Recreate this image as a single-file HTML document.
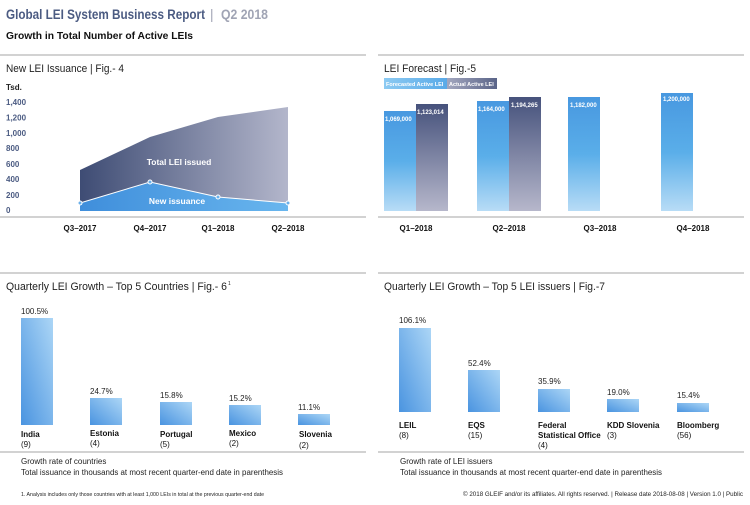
<!DOCTYPE html>
<html><head><meta charset="utf-8"><style>
html,body{margin:0;padding:0;background:#fff;}
svg{display:block;font-family:"Liberation Sans",sans-serif;}
</style></head><body>
<svg width="750" height="505" viewBox="0 0 750 505" xmlns="http://www.w3.org/2000/svg">
<defs>
<linearGradient id="gTot" x1="0" y1="0" x2="1" y2="0"><stop offset="0" stop-color="#3e4c74"/><stop offset="1" stop-color="#b3b6cb"/></linearGradient>
<linearGradient id="gNew" x1="0" y1="0" x2="1" y2="0"><stop offset="0" stop-color="#3f8edb"/><stop offset="1" stop-color="#69b6ee"/></linearGradient>
<linearGradient id="gF" x1="0" y1="0" x2="0" y2="1"><stop offset="0" stop-color="#4898e0"/><stop offset="0.5" stop-color="#5aaee9"/><stop offset="1" stop-color="#b8dcf6"/></linearGradient>
<linearGradient id="gA" x1="0" y1="0" x2="0" y2="1"><stop offset="0" stop-color="#46527c"/><stop offset="1" stop-color="#b6b7cb"/></linearGradient>
<linearGradient id="gB" x1="0" y1="1" x2="1" y2="0"><stop offset="0" stop-color="#4a94e0"/><stop offset="1" stop-color="#acd6f6"/></linearGradient>
<linearGradient id="gLF" x1="0" y1="0" x2="1" y2="0"><stop offset="0" stop-color="#8ccaf2"/><stop offset="1" stop-color="#5aaae8"/></linearGradient>
<linearGradient id="gLA" x1="0" y1="0" x2="1" y2="0"><stop offset="0" stop-color="#a3a7bf"/><stop offset="1" stop-color="#5a6488"/></linearGradient>
</defs>

<!-- Header -->
<text x="6" y="19" font-size="13.5" font-weight="bold" fill="#4b5b82" textLength="199" lengthAdjust="spacingAndGlyphs">Global LEI System Business Report</text>
<text x="210" y="19" font-size="13.5" fill="#a0a4b4">|</text>
<text x="221" y="19" font-size="13.5" font-weight="bold" fill="#a0a4b4" textLength="47" lengthAdjust="spacingAndGlyphs">Q2 2018</text>
<text x="6" y="39" font-size="10.5" font-weight="bold" fill="#111" textLength="187" lengthAdjust="spacingAndGlyphs">Growth in Total Number of Active LEIs</text>

<!-- Fig 4 -->
<line x1="0" y1="55" x2="366" y2="55" stroke="#888" stroke-width="0.8"/>
<text x="6" y="72" font-size="11" fill="#222" textLength="118" lengthAdjust="spacingAndGlyphs">New LEI Issuance  |  Fig.- 4</text>
<text x="6" y="90" font-size="8" font-weight="bold" fill="#222">Tsd.</text>
<g font-size="8" fill="#4b5b82" font-weight="bold">
<text x="6" y="105">1,400</text><text x="6" y="120.5">1,200</text><text x="6" y="136">1,000</text>
<text x="6" y="151">800</text><text x="6" y="167">600</text><text x="6" y="182">400</text>
<text x="6" y="198">200</text><text x="6" y="213">0</text>
</g>
<polygon points="80,170 150,137 218,117 288,107 288,211 80,211" fill="url(#gTot)"/>
<polygon points="80,203 150,182 218,197 288,203 288,211 80,211" fill="url(#gNew)"/>
<polyline points="80,203 150,182 218,197 288,203" fill="none" stroke="#fff" stroke-width="1"/>
<g fill="#6ab0ea" stroke="#fff" stroke-width="1"><circle cx="80" cy="203" r="2"/><circle cx="150" cy="182" r="2"/><circle cx="218" cy="197" r="2"/><circle cx="288" cy="203" r="2"/></g>
<text x="179" y="165" font-size="8.5" font-weight="bold" fill="#fff" text-anchor="middle">Total LEI issued</text>
<text x="177" y="204" font-size="8.5" font-weight="bold" fill="#fff" text-anchor="middle">New issuance</text>
<line x1="0" y1="217" x2="366" y2="217" stroke="#888" stroke-width="0.8"/>
<g font-size="8" font-weight="bold" fill="#111" text-anchor="middle">
<text x="80" y="231">Q3–2017</text><text x="150" y="231">Q4–2017</text><text x="218" y="231">Q1–2018</text><text x="288" y="231">Q2–2018</text>
</g>

<!-- Fig 5 -->
<line x1="378" y1="55" x2="744" y2="55" stroke="#888" stroke-width="0.8"/>
<text x="384" y="72" font-size="11" fill="#222" textLength="92" lengthAdjust="spacingAndGlyphs">LEI Forecast  |  Fig.-5</text>
<rect x="384" y="78" width="63" height="11" fill="url(#gLF)"/>
<rect x="447" y="78" width="50" height="11" fill="url(#gLA)"/>
<text x="386" y="86" font-size="5.5" font-weight="bold" fill="#fff">Forecasted Active LEI</text>
<text x="449" y="86" font-size="5.5" font-weight="bold" fill="#fff">Actual Active LEI</text>
<rect x="384" y="111" width="32" height="100" fill="url(#gF)"/>
<rect x="416" y="104" width="32" height="107" fill="url(#gA)"/>
<rect x="477" y="101" width="32" height="110" fill="url(#gF)"/>
<rect x="509" y="97" width="32" height="114" fill="url(#gA)"/>
<rect x="568" y="97" width="32" height="114" fill="url(#gF)"/>
<rect x="661" y="93" width="32" height="118" fill="url(#gF)"/>
<g font-size="6" font-weight="bold" fill="#fff">
<text x="385" y="121">1,069,000</text><text x="417" y="114">1,123,014</text>
<text x="478" y="111">1,164,000</text><text x="511" y="107">1,194,265</text>
<text x="570" y="107">1,182,000</text><text x="663" y="101">1,200,000</text>
</g>
<line x1="378" y1="217" x2="744" y2="217" stroke="#888" stroke-width="0.8"/>
<g font-size="8" font-weight="bold" fill="#111" text-anchor="middle">
<text x="416" y="231">Q1–2018</text><text x="509" y="231">Q2–2018</text><text x="600" y="231">Q3–2018</text><text x="693" y="231">Q4–2018</text>
</g>

<!-- Fig 6 -->
<line x1="0" y1="273" x2="366" y2="273" stroke="#888" stroke-width="0.8"/>
<text x="6" y="290" font-size="11" fill="#222" textLength="221" lengthAdjust="spacingAndGlyphs">Quarterly LEI Growth – Top 5 Countries  |  Fig.- 6</text>
<text x="228" y="285" font-size="5" fill="#222">1</text>
<rect x="21" y="318" width="32" height="107" fill="url(#gB)"/>
<rect x="90" y="398" width="32" height="27" fill="url(#gB)"/>
<rect x="160" y="402" width="32" height="23" fill="url(#gB)"/>
<rect x="229" y="405" width="32" height="20" fill="url(#gB)"/>
<rect x="298" y="414" width="32" height="11" fill="url(#gB)"/>
<g font-size="8" fill="#222">
<text x="21" y="314">100.5%</text><text x="90" y="394">24.7%</text><text x="160" y="398">15.8%</text><text x="229" y="401">15.2%</text><text x="298" y="410">11.1%</text>
</g>
<g font-size="8" fill="#111"><g font-weight="bold">
<text x="21" y="437">India</text><text x="90" y="436">Estonia</text><text x="160" y="437">Portugal</text><text x="229" y="436">Mexico</text><text x="299" y="437">Slovenia</text></g>
<text x="21" y="447">(9)</text><text x="90" y="446">(4)</text><text x="160" y="447">(5)</text><text x="229" y="446">(2)</text><text x="299" y="448">(2)</text>
</g>
<line x1="0" y1="452" x2="366" y2="452" stroke="#888" stroke-width="0.8"/>
<text x="21" y="464" font-size="8" fill="#222">Growth rate of countries</text>
<text x="21" y="475" font-size="8" fill="#222" textLength="262" lengthAdjust="spacingAndGlyphs">Total issuance in thousands at most recent quarter-end date in parenthesis</text>
<text x="21" y="496" font-size="5" fill="#222" textLength="243" lengthAdjust="spacingAndGlyphs">1. Analysis includes only those countries with at least 1,000 LEIs in total at the previous quarter-end date</text>

<!-- Fig 7 -->
<line x1="378" y1="273" x2="744" y2="273" stroke="#888" stroke-width="0.8"/>
<text x="384" y="290" font-size="11" fill="#222" textLength="221" lengthAdjust="spacingAndGlyphs">Quarterly LEI Growth – Top 5 LEI issuers  |  Fig.-7</text>
<rect x="399" y="328" width="32" height="84" fill="url(#gB)"/>
<rect x="468" y="370" width="32" height="42" fill="url(#gB)"/>
<rect x="538" y="389" width="32" height="23" fill="url(#gB)"/>
<rect x="607" y="399" width="32" height="13" fill="url(#gB)"/>
<rect x="677" y="403" width="32" height="9" fill="url(#gB)"/>
<g font-size="8" fill="#222">
<text x="399" y="323">106.1%</text><text x="468" y="366">52.4%</text><text x="538" y="384">35.9%</text><text x="607" y="395">19.0%</text><text x="677" y="398">15.4%</text>
</g>
<g font-size="8" fill="#111"><g font-weight="bold">
<text x="399" y="428">LEIL</text><text x="468" y="428">EQS</text><text x="538" y="428">Federal</text><text x="538" y="438">Statistical Office</text><text x="607" y="428">KDD Slovenia</text><text x="677" y="428">Bloomberg</text></g>
<text x="399" y="438">(8)</text><text x="468" y="438">(15)</text><text x="538" y="448">(4)</text><text x="607" y="438">(3)</text><text x="677" y="438">(56)</text>
</g>
<line x1="378" y1="452" x2="744" y2="452" stroke="#888" stroke-width="0.8"/>
<text x="400" y="464" font-size="8" fill="#222">Growth rate of LEI issuers</text>
<text x="400" y="475" font-size="8" fill="#222" textLength="262" lengthAdjust="spacingAndGlyphs">Total issuance in thousands at most recent quarter-end date in parenthesis</text>
<text x="743" y="496" font-size="6" fill="#222" text-anchor="end" textLength="280" lengthAdjust="spacingAndGlyphs">© 2018 GLEIF and/or its affiliates. All rights reserved.  |  Release date 2018-08-08  |  Version 1.0  |  Public</text>
</svg>
</body></html>
